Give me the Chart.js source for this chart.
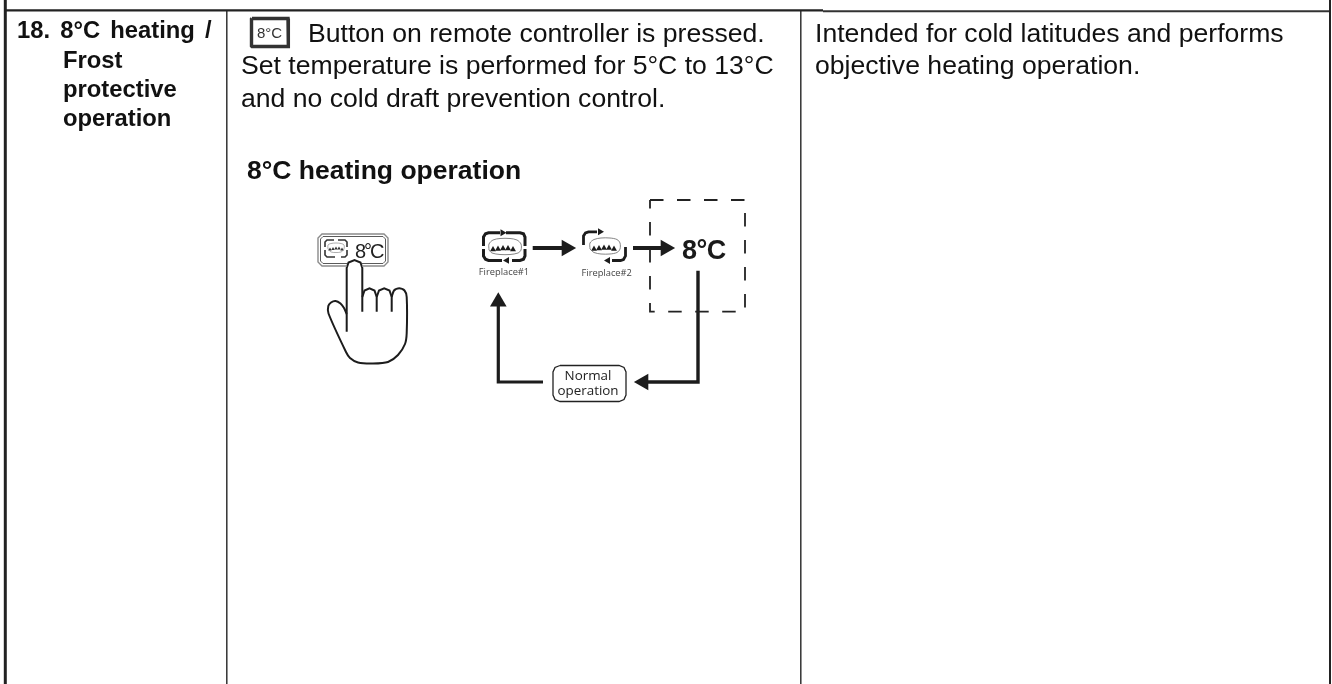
<!DOCTYPE html>
<html><head><meta charset="utf-8">
<style>html,body{margin:0;padding:0;background:#fff}canvas{display:block}</style>
<script src="https://cdn.jsdelivr.net/npm/chart.js@4"></script>
</head><body>
<canvas id="c" width="1332" height="684"></canvas>
<script>
// Table rules
const leftBorder=[[5.3,0],[5.3,684]];
const rightBorder=[[1330,0],[1330,684]];
const topRuleA=[[5,10.4],[823,10.4]];
const topRuleB=[[823,11.3],[1330,11.3]];
const colRule1=[[226.8,10],[226.8,684]];
const colRule2=[[800.8,10],[800.8,684]];
// Button icon
const buttonBox=[[252,18.5],[288,18.5],[288.5,19],[288.5,46],[288,46.5],[252,46.5],[251.5,46],[251.5,19],[252,18.5]];
// Hand panel (open where the finger passes in front)
const panelOuter=[[347,266],[322,266],[318,262],[318,238],[322,234],[384,234],[388,238],[388,262],[384,266],[362,266]];
const panelInner=[[347,263.5],[323,263.5],[320.5,261],[320.5,239],[323,236.5],[383,236.5],[385.5,239],[385.5,261],[383,263.5],[362,263.5]];
// Hand outline
const handIndex=[[346.7,331.7],[346.7,268],[348.5,262.5],[354.5,260],[360.5,262.5],[362.3,268],[362.3,311.7]];
const handMiddle=[[362.3,297],[364.5,290.5],[369.5,288.3],[374.5,290.5],[376.7,297],[376.7,311.7]];
const handRing=[[376.7,297],[379,290.5],[384.2,288.3],[389.5,290.5],[391.7,297],[391.7,311.7]];
const handPinky=[[391.7,297],[394,290.5],[399.2,288.3],[404.5,290.5],[406.7,297],[406.7,333],[405,344],[398,355],[388,362],[373,363.5],[358,362.5],[350,358],[346,352],[328.5,313.5],[328.3,306],[331,302.5],[335.5,301],[340.5,303.5],[344,308],[346.7,314]];
// Flow arrows
const arrow1=[[532.7,248],[563,248]];
const arrow2=[[633,248],[663,248]];
const flowDown=[[698,270.7],[698,382],[646,382]];
const flowUp=[[543,382],[498.3,382],[498.3,305]];
const arrowTipsRight=[[566.5,248],[665.5,248]];
const arrowTipLeft=[[643.5,382]];
const arrowTipUp=[[498.3,301.8]];
const dashedBox=[[650,200],[745,200],[745,311.7],[650,311.7],[650,200]];
const normalBox=[[560,365.5],[619,365.5],[624,367.5],[626,372],[626,395],[624,399.5],[619,401.5],[560,401.5],[555,399.5],[553,395],[553,372],[555,367.5],[560,365.5]];
// Fireplace #1 icon
const fp1A=[[483.5,246],[483.5,237],[485.5,233.8],[488.5,232.8],[500,232.8]];
const fp1B=[[506,232.8],[520,232.8],[523.5,233.8],[525,237],[525,246]];
const fp1C=[[525,249],[525,256],[523.5,259.2],[520,260.4],[512,260.4]];
const fp1D=[[502,260.4],[488.5,260.4],[485.5,259.2],[483.5,256],[483.5,249]];
const fp1Tips=[[502.5,232.8]];
const fp1TipsB=[[507,260.4]];
const fp1Oval=[[489,250],[489,244],[493,240],[500,238.5],[510,238.5],[517,240],[521,244],[521,250],[518,253],[510,254.5],[500,254.5],[492,253],[489,250]];
const fp1Flames=[[493,249.5],[498,249],[503,248.5],[508,248.5],[513,249.5]];
// Fireplace #2 icon
const fp2A=[[583.5,245],[583.5,236],[585.5,232.8],[588.5,231.8],[597,231.8]];
const fp2C=[[625.5,247],[625.5,256],[623.5,259.5],[620.5,260.5],[612,260.5]];
const fp2TipA=[[600,231.8]];
const fp2TipC=[[608,260.5]];
const fp2Oval=[[590,249],[590,243],[594,239.5],[601,238],[610,238],[617,239.5],[620,243],[620,249],[617,252.5],[610,254],[601,254],[594,252.5],[590,249]];
const fp2Flames=[[594,249],[599,248.5],[604,248],[609,248],[614,249]];
// Small icon in the hand panel
const pnA=[[325,247],[325,242],[327,240],[334,240]];
const pnB=[[338,240],[345,240],[347,242],[347,247]];
const pnC=[[347,250],[347,255],[345,257],[341,257]];
const pnD=[[335,257],[327,257],[325,255],[325,250]];
const pnFlames=[[330,249.5],[333,249],[336,248.5],[339,248.5],[342,249.5]];
const pnOval=[[328,249],[328,245],[331,243.5],[336,243],[341,243.5],[344,245],[344,249],[341,252],[336,252.5],[331,252],[328,249]];
// Texts
const cellHead=["18. 8°C heating /","Frost","protective","operation"];
const cellMiddle=["Button on remote controller is pressed.","Set temperature is performed for 5°C to 13°C","and no cold draft prevention control."];
const cellRight=["Intended for cold latitudes and performs","objective heating operation."];
const heading="8°C heating operation";
const buttonLabel="8°C";
const panelLabel="8°C";
const flowLabel="8°C";
const fireLabels=["Fireplace#1","Fireplace#2"];
const normalLabels=["Normal","operation"];

const toXY=a=>a.map(p=>({x:p[0],y:p[1]}));
const line=(pts,w,color,extra)=>Object.assign({type:'line',data:toXY(pts),borderColor:color,borderWidth:w,pointRadius:0,fill:false,tension:0,clip:false,borderCapStyle:'butt',borderJoinStyle:'miter'},extra||{});
const tips=(pts,r,rot,color)=>({type:'scatter',data:toXY(pts),showLine:false,pointStyle:'triangle',pointRadius:r,pointRotation:rot,backgroundColor:color,borderColor:color,borderWidth:0,clip:false});
const INK='#1c1c1c';
const datasets=[
 line(leftBorder,3,'#222'),line(rightBorder,2,'#222'),line(topRuleA,2.4,'#222'),line(topRuleB,2,'#333'),
 line(colRule1,1.5,'#333'),line(colRule2,1.5,'#333'),
 line(buttonBox,3.4,'#333'),
 line(panelOuter,1.4,'#8a8a8a'),line(panelInner,1,'#5a5a5a'),
 line(handIndex,2,INK),line(handMiddle,2,INK),line(handRing,2,INK),line(handPinky,2,INK,{tension:0.25}),
 line(dashedBox,1.8,'#222',{borderDash:[13.5,13.5]}),
 line(arrow1,4,INK),line(arrow2,4,INK),line(flowDown,3.4,INK),line(flowUp,3.2,INK),
 tips(arrowTipsRight,9.6,90,INK),tips(arrowTipLeft,9.6,270,INK),tips(arrowTipUp,9.6,0,INK),
 line(normalBox,1.3,'#222'),
 line(fp1A,3,INK),line(fp1B,3,INK),line(fp1C,3,INK),line(fp1D,3,INK),
 tips(fp1Tips,4,90,INK),tips(fp1TipsB,4,270,INK),
 line(fp1Oval,.8,'#666',{tension:.3}),tips(fp1Flames,3.4,0,INK),
 line(fp2A,2.8,INK),line(fp2C,2.8,INK),tips(fp2TipA,4,90,INK),tips(fp2TipC,4,270,INK),
 line(fp2Oval,.8,'#666',{tension:.3}),tips(fp2Flames,3.4,0,INK),
 line(pnA,1.6,'#333'),line(pnB,1.6,'#333'),line(pnC,1.6,'#333'),line(pnD,1.6,'#333'),
 line(pnOval,.6,'#777',{tension:.3}),tips(pnFlames,2,0,'#333')
];
const ARIAL='"Liberation Sans", Arial, sans-serif';
const SOFT='"Open Sans", "Noto Sans", sans-serif';
const textPlugin={id:'cellText',afterDatasetsDraw(chart){
  const {ctx,scales:{x,y}}=chart;
  const put=(s,px,py,font,color,align,ws,ls)=>{
    ctx.save();ctx.font=font;ctx.fillStyle=color;ctx.textAlign=align||'left';ctx.textBaseline='alphabetic';
    ctx.wordSpacing=(ws||0)+'px';ctx.letterSpacing=(ls||0)+'px';
    ctx.fillText(s,x.getPixelForValue(px),y.getPixelForValue(py));ctx.restore();};
  const B='bold 23.8px '+ARIAL;
  put(cellHead[0],17,38,B,'#111','left',3.5);
  put(cellHead[1],63,68,B,'#111');put(cellHead[2],63,97,B,'#111');put(cellHead[3],63,126,B,'#111');
  const R='26.6px '+ARIAL;
  put(cellMiddle[0],308,41.5,R,'#111');put(cellMiddle[1],241,74,R,'#111');put(cellMiddle[2],241,107,R,'#111');
  put(cellRight[0],815,41.5,R,'#111');put(cellRight[1],815,74,R,'#111');
  put(heading,247,179,'bold 26.5px '+ARIAL,'#111');
  put(buttonLabel,257,38,'15px '+ARIAL,'#333');
  put(panelLabel,355,258,'20px '+ARIAL,'#222','left',0,-2);
  put(flowLabel,682,259,'bold 27px '+ARIAL,'#1a1a1a','left',0,-0.5);
  put(fireLabels[0],504,275,'9.3px '+SOFT,'#444','center');
  put(fireLabels[1],606.7,275.5,'9.3px '+SOFT,'#444','center');
  put(normalLabels[0],588,380,'13.4px '+SOFT,'#222','center');
  put(normalLabels[1],588,394.5,'13.4px '+SOFT,'#222','center');
}};
new Chart(document.getElementById('c'),{
 data:{datasets},
 plugins:[textPlugin],
 options:{responsive:false,animation:false,events:[],layout:{padding:0,autoPadding:false},
  plugins:{legend:{display:false},title:{display:false},tooltip:{enabled:false}},
  scales:{x:{type:'linear',min:0,max:1332,display:false},y:{type:'linear',min:0,max:684,reverse:true,display:false}}}
});
</script>
</body></html>
